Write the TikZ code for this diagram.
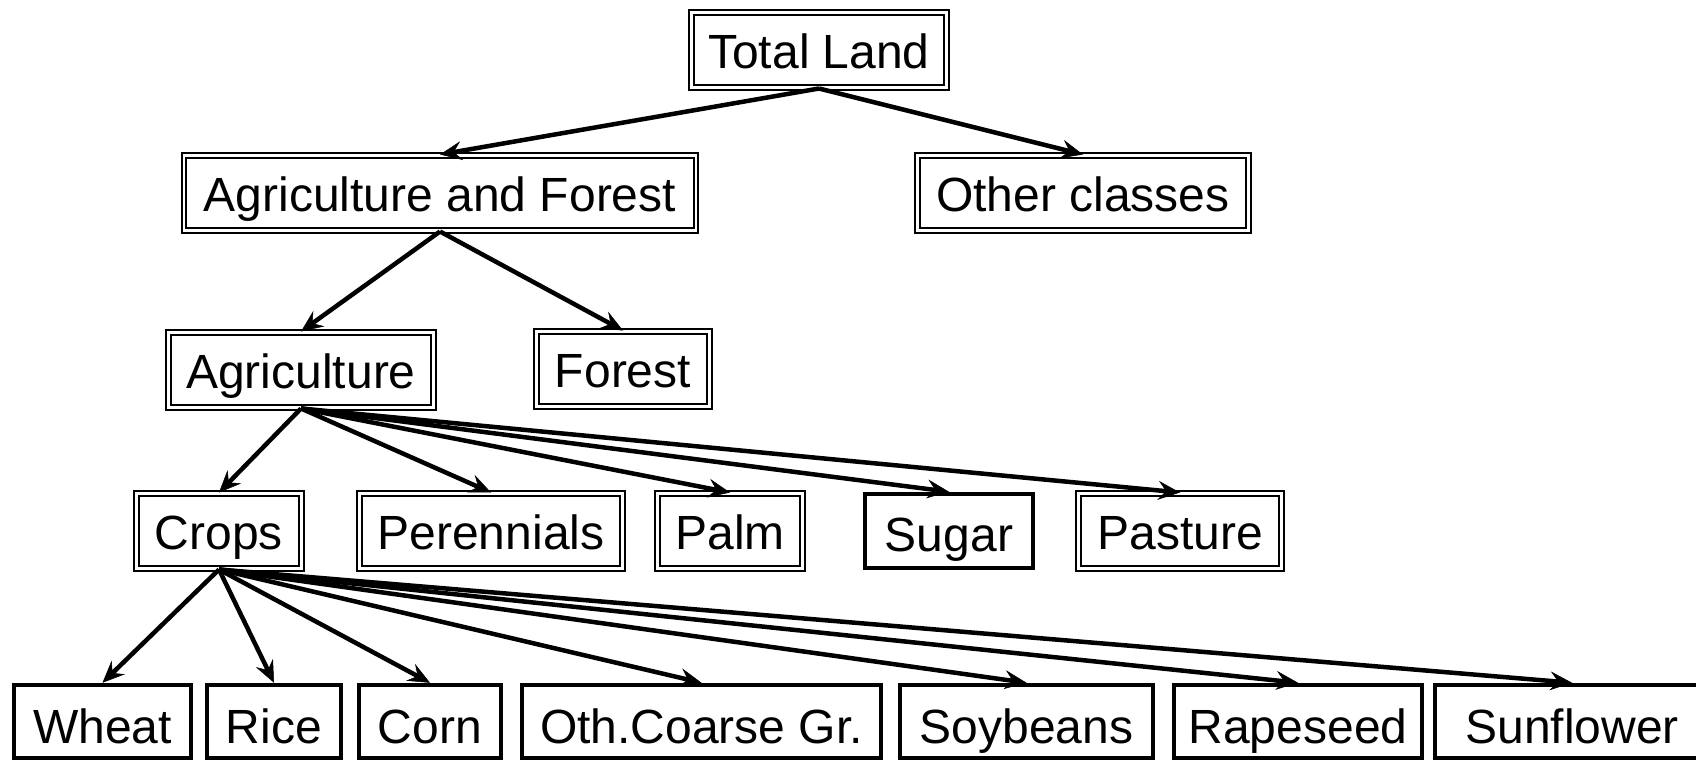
\documentclass[tikz,border=0pt]{standalone}
\usepackage{fontspec}
\setmainfont{Liberation Sans}
\usetikzlibrary{arrows.meta}

\begin{document}
\begin{tikzpicture}[x=1pt,y=-1pt,
  dblbox/.style={draw,double,line width=2pt,double distance=2.5pt,inner sep=0pt,
    minimum height=75,text height=37pt,text depth=0pt},
  thickbox/.style={draw,line width=4.5pt,inner sep=0pt,text height=40pt,text depth=0pt},
  link/.style={line width=4.5pt,-{Stealth[length=22pt,width=19pt,inset=8pt,line width=0.5pt]}},
  font=\fontsize{48}{56}\selectfont]
  \useasboundingbox (0,0) rectangle (1696,762);
  % top levels
  \node[dblbox,minimum width=255] (total) at (819,50) {Total Land};
  \node[dblbox,minimum width=512] (agfor) at (440,193) {Agriculture and Forest};
  \node[dblbox,minimum width=331] (other) at (1083,193) {Other classes};
  \node[dblbox,minimum width=265] (agri) at (301,370) {Agriculture};
  \node[dblbox,minimum width=173] (forest) at (623,369) {Forest};
  % land uses
  \node[dblbox,minimum width=165] (crops) at (219,531) {Crops};
  \node[dblbox,minimum width=263] (peren) at (491,531) {Perennials};
  \node[dblbox,minimum width=145] (palm) at (730,531) {Palm};
  \node[thickbox,minimum width=168,minimum height=74] (sugar) at (949,531) {Sugar};
  \node[dblbox,minimum width=203] (pasture) at (1180,531) {Pasture};
  % crops
  \foreach \name/\cx/\bw/\txt in {wheat/102.5/177/Wheat, rice/274/134/Rice, corn/430/142/Corn,
      oth/701.5/359/Oth.Coarse Gr., soy/1026.5/253/Soybeans, rape/1298/248/Rapeseed,
      sun/1572/274/Sunflower}{%
    \node[thickbox,minimum width=\bw,minimum height=73,text height=44pt] (\name) at (\cx,721.5) {\txt};
  }
  \draw[link] (total.south) -- (agfor.north);
  \draw[link] (total.south) -- (other.north);
  \draw[link] (agfor.south) -- (agri.north);
  \draw[link] (agfor.south) -- (forest.north);
  \foreach \kid in {crops,peren,palm,sugar,pasture}
    \draw[link] (agri.south) -- (\kid.north);
  \foreach \kid in {wheat,rice,corn,oth,soy,rape,sun}
    \draw[link] (crops.south) -- (\kid.north);
\end{tikzpicture}
\end{document}
